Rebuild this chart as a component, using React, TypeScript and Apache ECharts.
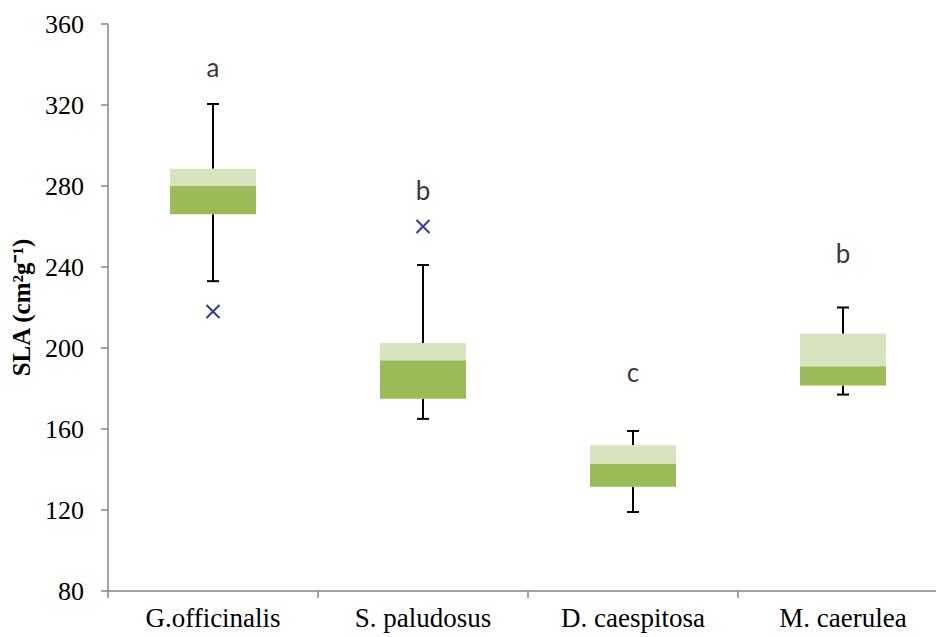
import React, { useEffect, useRef } from "react";
import * as echarts from "echarts";

const categories = ["G.officinalis", "S. paludosus", "D. caespitosa", "M. caerulea"];
const whiskerMin = [233, 165, 119, 177];
const q1 = [266, 175, 131.5, 181.5];
const median = [280, 194, 143, 191];
const q3 = [288.5, 202.5, 152, 207];
const whiskerMax = [320.5, 241, 159, 220];
const outliers: [number, number][] = [
  [0, 218],
  [1, 260],
];
const letters = ["a", "b", "c", "b"];
const letterY = [339, 278, 188, 247];
const yTicks = { min: 80, max: 360, interval: 40 };

export default function App() {
  const ref = useRef<HTMLDivElement>(null);
  useEffect(() => {
    if (!ref.current) return;
    const chart = echarts.init(ref.current, undefined, { renderer: "svg" });
    const boxData = categories.map((_, i) => [i, q1[i], median[i], q3[i]]);
    const whiskerData = categories.map((_, i) => [i, whiskerMin[i], q1[i], q3[i], whiskerMax[i]]);
    const letterData = categories.map((_, i) => [i, letterY[i], letters[i]]);
    chart.setOption({
      animation: false,
      backgroundColor: "#ffffff",
      grid: {
        left: 108,
        top: 24,
        width: 840,
        bottom: 46,
        containLabel: false,
        outerBoundsMode: "none",
      },
      xAxis: {
        type: "category",
        data: categories,
        axisLine: { lineStyle: { color: "#868686", width: 1.5 } },
        axisTick: { show: true, length: 7, lineStyle: { color: "#868686", width: 1.5 } },
        axisLabel: {
          color: "#000",
          fontFamily: "Liberation Serif",
          fontSize: 27,
          margin: 13,
        },
        splitLine: { show: false },
      },
      yAxis: {
        type: "value",
        min: yTicks.min,
        max: yTicks.max,
        interval: yTicks.interval,
        name: "SLA (cm²g⁻¹)",
        nameLocation: "middle",
        nameRotate: 90,
        nameGap: 73,
        nameTextStyle: {
          color: "#000",
          fontFamily: "Liberation Serif",
          fontWeight: "bold",
          fontSize: 25,
        },
        axisLine: { show: true, lineStyle: { color: "#868686", width: 1.5 } },
        axisTick: { show: true, length: 7, lineStyle: { color: "#868686", width: 1.5 } },
        axisLabel: {
          color: "#000",
          fontFamily: "Liberation Serif",
          fontSize: 26,
          margin: 24,
        },
        splitLine: { show: false },
      },
      series: [
        {
          type: "custom",
          name: "whiskers",
          data: whiskerData,
          renderItem: (params: any, api: any) => {
            const i = api.value(0);
            const pMin = api.coord([i, api.value(1)]);
            const pQ1 = api.coord([i, api.value(2)]);
            const pQ3 = api.coord([i, api.value(3)]);
            const pMax = api.coord([i, api.value(4)]);
            const cap = 6;
            const style = { stroke: "#000", lineWidth: 2 };
            return {
              type: "group",
              children: [
                { type: "line", shape: { x1: pMax[0], y1: pMax[1], x2: pQ3[0], y2: pQ3[1] }, style },
                { type: "line", shape: { x1: pQ1[0], y1: pQ1[1], x2: pMin[0], y2: pMin[1] }, style },
                { type: "line", shape: { x1: pMax[0] - cap, y1: pMax[1], x2: pMax[0] + cap, y2: pMax[1] }, style },
                { type: "line", shape: { x1: pMin[0] - cap, y1: pMin[1], x2: pMin[0] + cap, y2: pMin[1] }, style },
              ],
            };
          },
          z: 2,
        },
        {
          type: "custom",
          name: "boxes",
          data: boxData,
          renderItem: (params: any, api: any) => {
            const i = api.value(0);
            const w = api.size([1, 0])[0] * 0.41;
            const pQ1 = api.coord([i, api.value(1)]);
            const pMed = api.coord([i, api.value(2)]);
            const pQ3 = api.coord([i, api.value(3)]);
            const x = pQ1[0] - w / 2;
            return {
              type: "group",
              children: [
                {
                  type: "rect",
                  shape: { x, y: pMed[1], width: w, height: pQ1[1] - pMed[1] },
                  style: { fill: "#9bbb59" },
                },
                {
                  type: "rect",
                  shape: { x, y: pQ3[1], width: w, height: pMed[1] - pQ3[1] },
                  style: { fill: "#d7e4bd" },
                },
              ],
            };
          },
          z: 3,
        },
        {
          type: "scatter",
          name: "outliers",
          data: outliers,
          symbol: "path://M0,0L10,10M10,0L0,10",
          symbolSize: 13,
          itemStyle: { color: "none", borderColor: "#00008b", borderWidth: 2 },
          z: 4,
        },
        {
          type: "scatter",
          name: "letters",
          data: letterData,
          symbolSize: 0,
          itemStyle: { color: "transparent" },
          label: {
            show: true,
            position: "inside",
            formatter: (p: any) => p.value[2],
            color: "#000",
            fontFamily: "Lato",
            fontSize: 26,
          },
          z: 5,
        },
      ],
    });
    return () => chart.dispose();
  }, []);
  return (
    <div
      ref={ref}
      style={{ position: "absolute", left: 0, top: 0, width: 936, height: 637 }}
    />
  );
}
